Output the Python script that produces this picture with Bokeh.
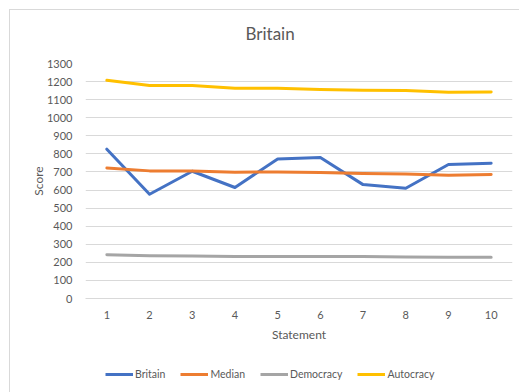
from bokeh.plotting import figure
from bokeh.layouts import column
from bokeh.models import (FactorRange, Range1d, Legend, LegendItem, FixedTicker,
                          Title)
from bokeh.embed import file_html
from bokeh.resources import INLINE

statements = [str(i) for i in range(1, 11)]
britain = [826, 577, 704, 614, 772, 780, 630, 610, 741, 748]
median = [722, 706, 706, 699, 700, 697, 691, 689, 682, 686]
democracy = [242, 236, 235, 233, 232, 232, 232, 229, 228, 228]
autocracy = [1207, 1178, 1178, 1163, 1163, 1156, 1152, 1150, 1141, 1143]
y_ticks = list(range(0, 1301, 100))

series_names = ["Britain", "Median", "Democracy", "Autocracy"]
series_values = [britain, median, democracy, autocracy]
series_colors = ["#4472C4", "#ED7D31", "#A5A5A5", "#FFC000"]

FONT = "Lato"
TXT = "#595959"

p = figure(width=510, height=355, output_backend="svg", toolbar_location=None,
           x_range=FactorRange(factors=statements, range_padding=0),
           y_range=Range1d(0, 1300),
           min_border_left=75, min_border_right=8, min_border_top=53,
           min_border_bottom=67)

# blank spacer between the plot frame and the title, so the title sits higher
p.add_layout(Title(text=" ", text_font_size="1px", standoff=10), "above")

# title centred over the whole chart area rather than the plot frame
p.title.text = "Britain"
p.title.align = "left"
p.title.offset = 160
p.title.text_font = FONT
p.title.text_font_size = "17px"
p.title.text_font_style = "normal"
p.title.text_color = TXT
p.title.standoff = 14

p.outline_line_color = None
p.background_fill_color = "white"
p.border_fill_color = "white"

p.xgrid.grid_line_color = None
p.ygrid.grid_line_color = "#D9D9D9"
p.ygrid.grid_line_width = 1
p.yaxis.ticker = FixedTicker(ticks=y_ticks)

for ax in (p.xaxis[0], p.yaxis[0]):
    ax.major_tick_line_color = None
    ax.minor_tick_line_color = None
    ax.major_label_text_font = FONT
    ax.major_label_text_font_size = "11px"
    ax.major_label_text_color = TXT
    ax.axis_label_text_font = FONT
    ax.axis_label_text_font_size = "12px"
    ax.axis_label_text_font_style = "normal"
    ax.axis_label_text_color = TXT
p.yaxis.axis_line_color = None
p.xaxis.axis_line_color = "#D9D9D9"
p.xaxis.axis_label = "Statement"
p.yaxis.axis_label = "Score"
p.xaxis.major_label_standoff = 6
p.yaxis.major_label_standoff = 7
p.xaxis.axis_label_standoff = 5
p.yaxis.axis_label_standoff = -2

for name, vals, color in zip(series_names, series_values, series_colors):
    p.line(statements, vals, line_color=color, line_width=3,
           line_join="round", line_cap="round")

# legend strip underneath the chart: same series, drawn outside its view,
# only so the legend has renderers to take its line styles from
lp = figure(width=510, height=27, output_backend="svg", toolbar_location=None,
            x_range=FactorRange(factors=statements), y_range=Range1d(5000, 6000),
            x_axis_location=None, y_axis_location=None,
            min_border_left=0, min_border_right=0, min_border_top=0,
            min_border_bottom=0, outline_line_color=None)
lp.grid.visible = False
items = []
for name, vals, color in zip(series_names, series_values, series_colors):
    r = lp.line(statements, vals, line_color=color, line_width=3)
    items.append(LegendItem(label=name, renderers=[r]))
legend = Legend(items=items, orientation="horizontal", location=(20, 11),
                label_text_font=FONT, label_text_font_size="10.5px",
                label_text_color=TXT, glyph_width=28, glyph_height=14,
                label_height=14, label_standoff=2, spacing=15, padding=0,
                margin=0, border_line_color=None, background_fill_alpha=0)
lp.add_layout(legend, "center")

layout = column(p, lp, spacing=0)
layout.margin = (9, 0, 0, 9)
layout.styles = {"border-top": "1px solid #D9D9D9",
                 "border-left": "1px solid #D9D9D9"}

open("out.html", "w").write(file_html(layout, INLINE))
